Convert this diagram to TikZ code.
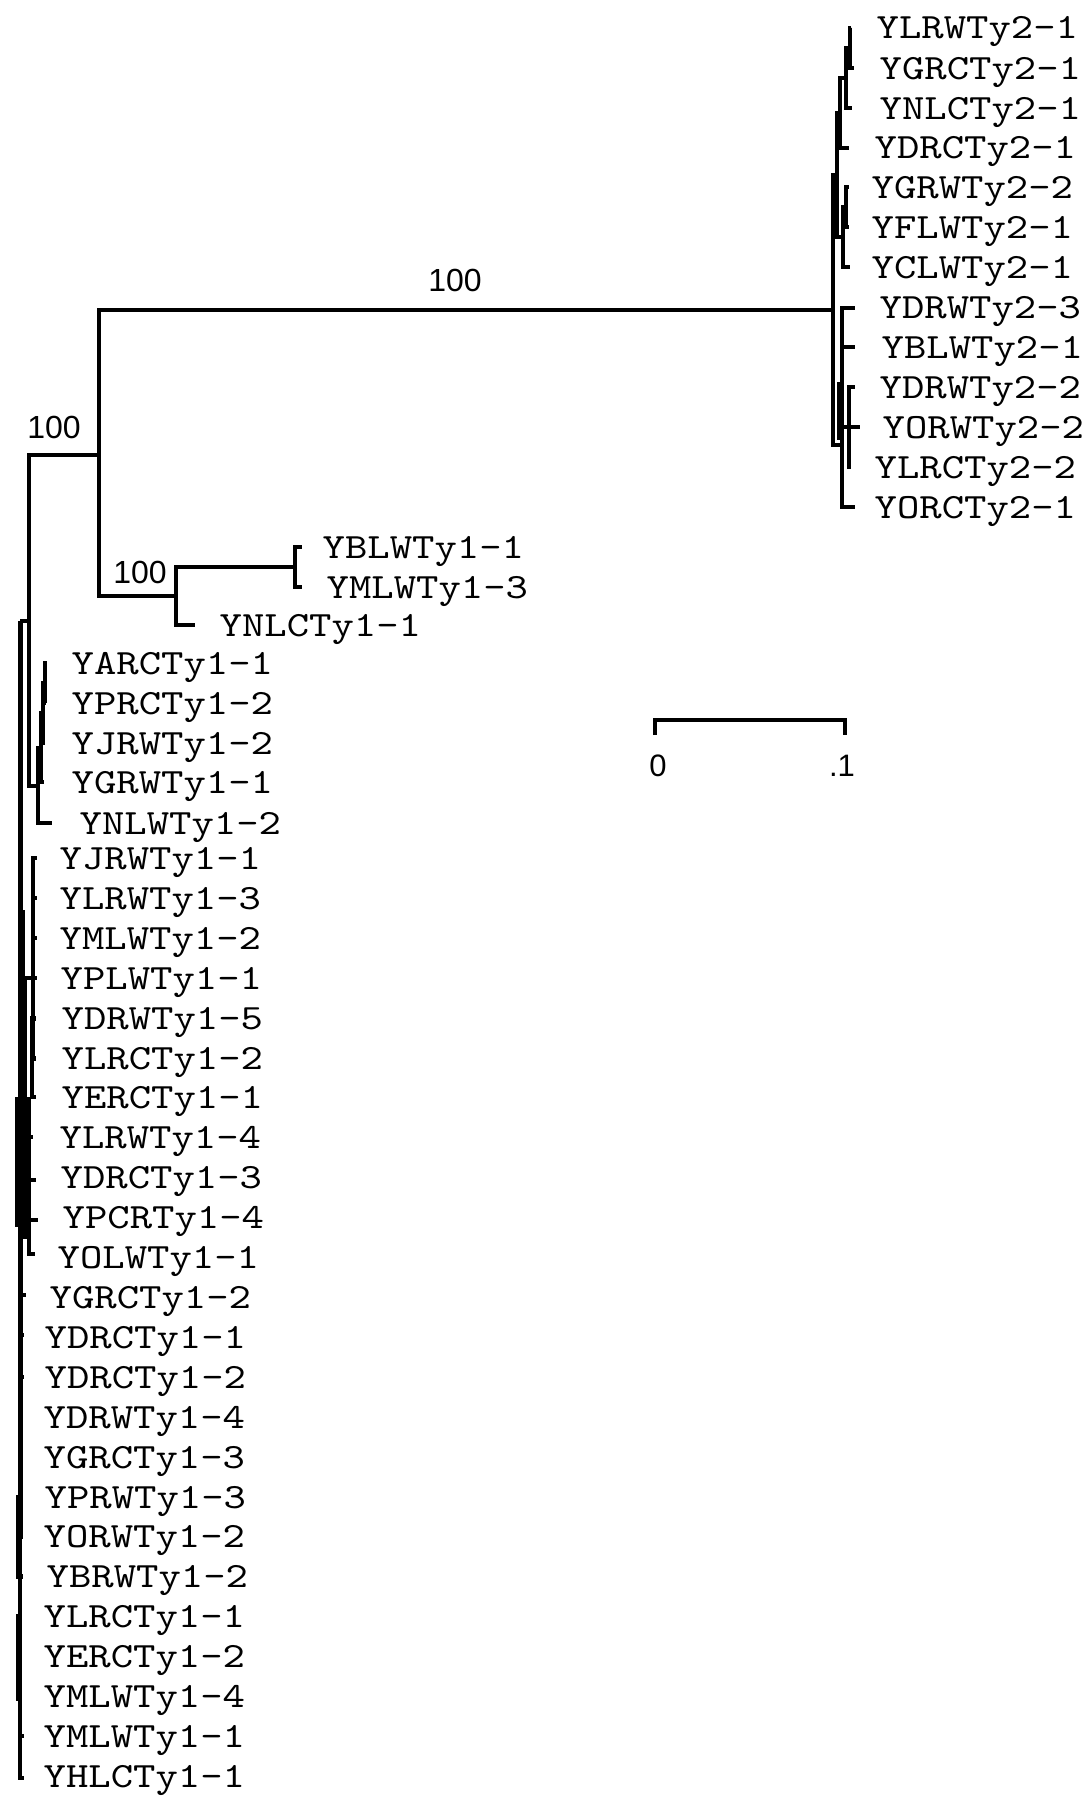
\documentclass[tikz,border=0pt]{standalone}
\usepackage{fontspec}
\newfontfamily\leaffont[FakeStretch=1.2]{lmmono10-regular.otf}
\newfontfamily\numfont{Liberation Sans}
\begin{document}
\begin{tikzpicture}[x=1pt,y=-1pt,line width=3.4pt,
  leaf/.style={anchor=base west,inner sep=0pt,font=\leaffont\fontsize{35.5}{35.5}\selectfont},
  boot/.style={anchor=base,inner sep=0pt,font=\numfont\fontsize{32}{32}\selectfont},
  scalelab/.style={anchor=base,inner sep=0pt,font=\numfont\fontsize{31}{31}\selectfont},
  thickseg/.style={line width=5pt}]
\useasboundingbox (0,0) rectangle (1082,1800);

% ---------- internal nodes (backbone) ----------
\coordinate (n0) at (29,621);
\coordinate (B) at (99,455);
\coordinate (C) at (176,596);
\coordinate (D) at (295,567);
\coordinate (G) at (20,621);
% Ty2 clade
\coordinate (R2) at (833,310);
\coordinate (n6) at (837,175);
\coordinate (n3) at (840,113);
\coordinate (n2) at (846,78);
\coordinate (n1) at (850,48);
\coordinate (n5) at (843,237);
\coordinate (n4) at (846,207);
\coordinate (m2) at (842,445);
\coordinate (m1) at (849,427);
\coordinate (mk1) at (839,382);
\coordinate (mk2) at (839,440);
% YARC clade
\coordinate (a4) at (38,786);
\coordinate (a3) at (41,748);
\coordinate (a2) at (43,713);
\coordinate (a1) at (45,683);
% big Ty1 group
\coordinate (U) at (33,978);
\coordinate (U2) at (32,1058);
\coordinate (H) at (25,1108);
\coordinate (V) at (29,1237);
\coordinate (P) at (18,1536);
\coordinate (Q) at (18,1656);
\coordinate (th1) at (22,910);
\coordinate (th2) at (22,1097);
\coordinate (bk1) at (15,1097);
\coordinate (bk2) at (31,1227);

% ---------- leaf tips ----------
\coordinate (t2a) at (851,28);
\coordinate (t2b) at (854,68);
\coordinate (t2c) at (852,108);
\coordinate (t2d) at (849,148);
\coordinate (t2e) at (849,187);
\coordinate (t2f) at (849,227);
\coordinate (t2g) at (850,267);
\coordinate (t2h) at (855,308);
\coordinate (t2i) at (855,347);
\coordinate (t2j) at (855,387);
\coordinate (t2k) at (860,427);
\coordinate (t2l) at (851,467);
\coordinate (t2m) at (855,507);
\coordinate (toA) at (302,547);
\coordinate (toB) at (302,587);
\coordinate (toC) at (195,625);
\coordinate (ta1) at (47,663);
\coordinate (ta2) at (46,703);
\coordinate (ta3) at (45,743);
\coordinate (ta4) at (44,782);
\coordinate (ta5) at (52,823);
\coordinate (k0) at (37,858);
\coordinate (k1) at (37,898);
\coordinate (k2) at (37,938);
\coordinate (k3) at (37,978);
\coordinate (k4) at (36,1018);
\coordinate (k5) at (36,1058);
\coordinate (k6) at (36,1097);
\coordinate (k7) at (33,1137);
\coordinate (k8) at (36,1180);
\coordinate (k9) at (38,1220);
\coordinate (k10) at (35,1254);
\coordinate (k11) at (26,1295);
\coordinate (k12) at (24,1335);
\coordinate (k13) at (24,1377);
\coordinate (k14) at (23,1417);
\coordinate (k15) at (23,1457);
\coordinate (k16) at (21,1497);
\coordinate (k17) at (21,1536);
\coordinate (k18) at (23,1576);
\coordinate (k19) at (21,1616);
\coordinate (k20) at (21,1656);
\coordinate (k21) at (21,1698);
\coordinate (k22) at (24,1736);
\coordinate (k23) at (24,1778);

% ---------- branches ----------
\draw (n0) |- (B);
\draw (n0) |- (a4);
\draw (n0) -- (G);
\draw (B) |- (R2);
\draw (B) |- (C);
\draw (C) |- (D);
\draw (C) |- (toC);
\draw (D) |- (toA);
\draw (D) |- (toB);
% Ty2
\draw (R2) |- (n6);
\draw (R2) |- (m2);
\draw (n6) |- (n3);
\draw (n6) |- (n5);
\draw (n3) |- (n2);
\draw (n3) |- (t2d);
\draw (n2) |- (n1);
\draw (n2) |- (t2c);
\draw (n1) |- (t2a);
\draw (n1) |- (t2b);
\draw (n5) |- (n4);
\draw (n5) |- (t2g);
\draw (n4) |- (t2e);
\draw (n4) |- (t2f);
\draw (m2) |- (t2h);
\draw (m2) |- (t2i);
\draw (m2) |- (m1);
\draw (m2) |- (t2m);
\draw (m1) |- (t2j);
\draw (m1) |- (t2k);
\draw (m1) |- (t2l);
\draw[thickseg] (mk1) -- (mk2);
% YARC clade
\draw (a4) |- (a3);
\draw (a4) |- (ta5);
\draw (a3) |- (a2);
\draw (a3) |- (ta4);
\draw (a2) |- (a1);
\draw (a2) |- (ta3);
\draw (a1) |- (ta1);
\draw (a1) |- (ta2);
% big group
\draw (G) |- (H);
\draw (H) |- (U);
\draw (U) |- (k0);
\draw (U) |- (k1);
\draw (U) |- (k2);
\draw (U) |- (k3);
\draw (U) |- (U2);
\draw[thickseg] (U2) |- (k4);
\draw[thickseg] (U2) |- (k5);
\draw (U2) |- (k6);
\draw (H) |- (k7);
\draw (H) |- (k8);
\draw (H) |- (V);
\draw (V) |- (k9);
\draw (V) |- (k10);
\draw[thickseg] (th1) -- (th2);
\fill (bk1) rectangle (bk2);
\draw (G) |- (k11);
\draw (G) |- (k12);
\draw (G) |- (k13);
\draw (G) |- (k14);
\draw (G) |- (k15);
\draw[thickseg] (G) |- (P);
\draw[thickseg] (P) |- (k16);
\draw (P) |- (k17);
\draw[thickseg] (P) |- (k18);
\draw (G) |- (Q);
\draw[thickseg] (Q) |- (k19);
\draw (Q) |- (k20);
\draw[thickseg] (Q) |- (k21);
\draw (G) |- (k22);
\draw (G) |- (k23);

% ---------- bootstrap labels ----------
\node[boot] (bs1) at (455,291) {100};
\node[boot] (bs2) at (54,438) {100};
\node[boot] (bs3) at (140,583) {100};

% ---------- leaf labels ----------
\node[leaf] (l2a) at (875,38) {YLRWTy2-1};
\node[leaf] (l2b) at (878,79) {YGRCTy2-1};
\node[leaf] (l2c) at (878,119) {YNLCTy2-1};
\node[leaf] (l2d) at (873,158) {YDRCTy2-1};
\node[leaf] (l2e) at (870,198) {YGRWTy2-2};
\node[leaf] (l2f) at (870,238) {YFLWTy2-1};
\node[leaf] (l2g) at (870,278) {YCLWTy2-1};
\node[leaf] (l2h) at (878,318) {YDRWTy2-3};
\node[leaf] (l2i) at (880,358) {YBLWTy2-1};
\node[leaf] (l2j) at (878,398) {YDRWTy2-2};
\node[leaf] (l2k) at (881,438) {YORWTy2-2};
\node[leaf] (l2l) at (873,478) {YLRCTy2-2};
\node[leaf] (l2m) at (873,518) {YORCTy2-1};

\node[leaf] (loA) at (321,558) {YBLWTy1-1};
\node[leaf] (loB) at (325,598) {YMLWTy1-3};
\node[leaf] (loC) at (218,636) {YNLCTy1-1};

\node[leaf] (la1) at (70,674) {YARCTy1-1};
\node[leaf] (la2) at (70,714) {YPRCTy1-2};
\node[leaf] (la3) at (70,754) {YJRWTy1-2};
\node[leaf] (la4) at (70,793) {YGRWTy1-1};
\node[leaf] (la5) at (78,834) {YNLWTy1-2};

\node[leaf] (lk0) at (58,869) {YJRWTy1-1};
\node[leaf] (lk1) at (58,909) {YLRWTy1-3};
\node[leaf] (lk2) at (58,949) {YMLWTy1-2};
\node[leaf] (lk3) at (59,989) {YPLWTy1-1};
\node[leaf] (lk4) at (60,1029) {YDRWTy1-5};
\node[leaf] (lk5) at (60,1069) {YLRCTy1-2};
\node[leaf] (lk6) at (60,1108) {YERCTy1-1};
\node[leaf] (lk7) at (58,1148) {YLRWTy1-4};
\node[leaf] (lk8) at (59,1188) {YDRCTy1-3};
\node[leaf] (lk9) at (61,1228) {YPCRTy1-4};
\node[leaf] (lk10) at (56,1268) {YOLWTy1-1};
\node[leaf] (lk11) at (48,1308) {YGRCTy1-2};
\node[leaf] (lk12) at (43,1348) {YDRCTy1-1};
\node[leaf] (lk13) at (43,1388) {YDRCTy1-2};
\node[leaf] (lk14) at (42,1428) {YDRWTy1-4};
\node[leaf] (lk15) at (42,1468) {YGRCTy1-3};
\node[leaf] (lk16) at (43,1508) {YPRWTy1-3};
\node[leaf] (lk17) at (42,1547) {YORWTy1-2};
\node[leaf] (lk18) at (45,1587) {YBRWTy1-2};
\node[leaf] (lk19) at (42,1627) {YLRCTy1-1};
\node[leaf] (lk20) at (42,1667) {YERCTy1-2};
\node[leaf] (lk21) at (42,1707) {YMLWTy1-4};
\node[leaf] (lk22) at (42,1747) {YMLWTy1-1};
\node[leaf] (lk23) at (42,1787) {YHLCTy1-1};

% ---------- scale bar ----------
\coordinate (sb1) at (655,735);
\coordinate (sb2) at (655,720);
\coordinate (sb3) at (845,720);
\coordinate (sb4) at (845,735);
\draw (sb1) -- (sb2) -- (sb3) -- (sb4);
\node[scalelab] (s0) at (658,776) {0};
\node[scalelab] (s1) at (842,776) {.1};
\end{tikzpicture}
\end{document}
